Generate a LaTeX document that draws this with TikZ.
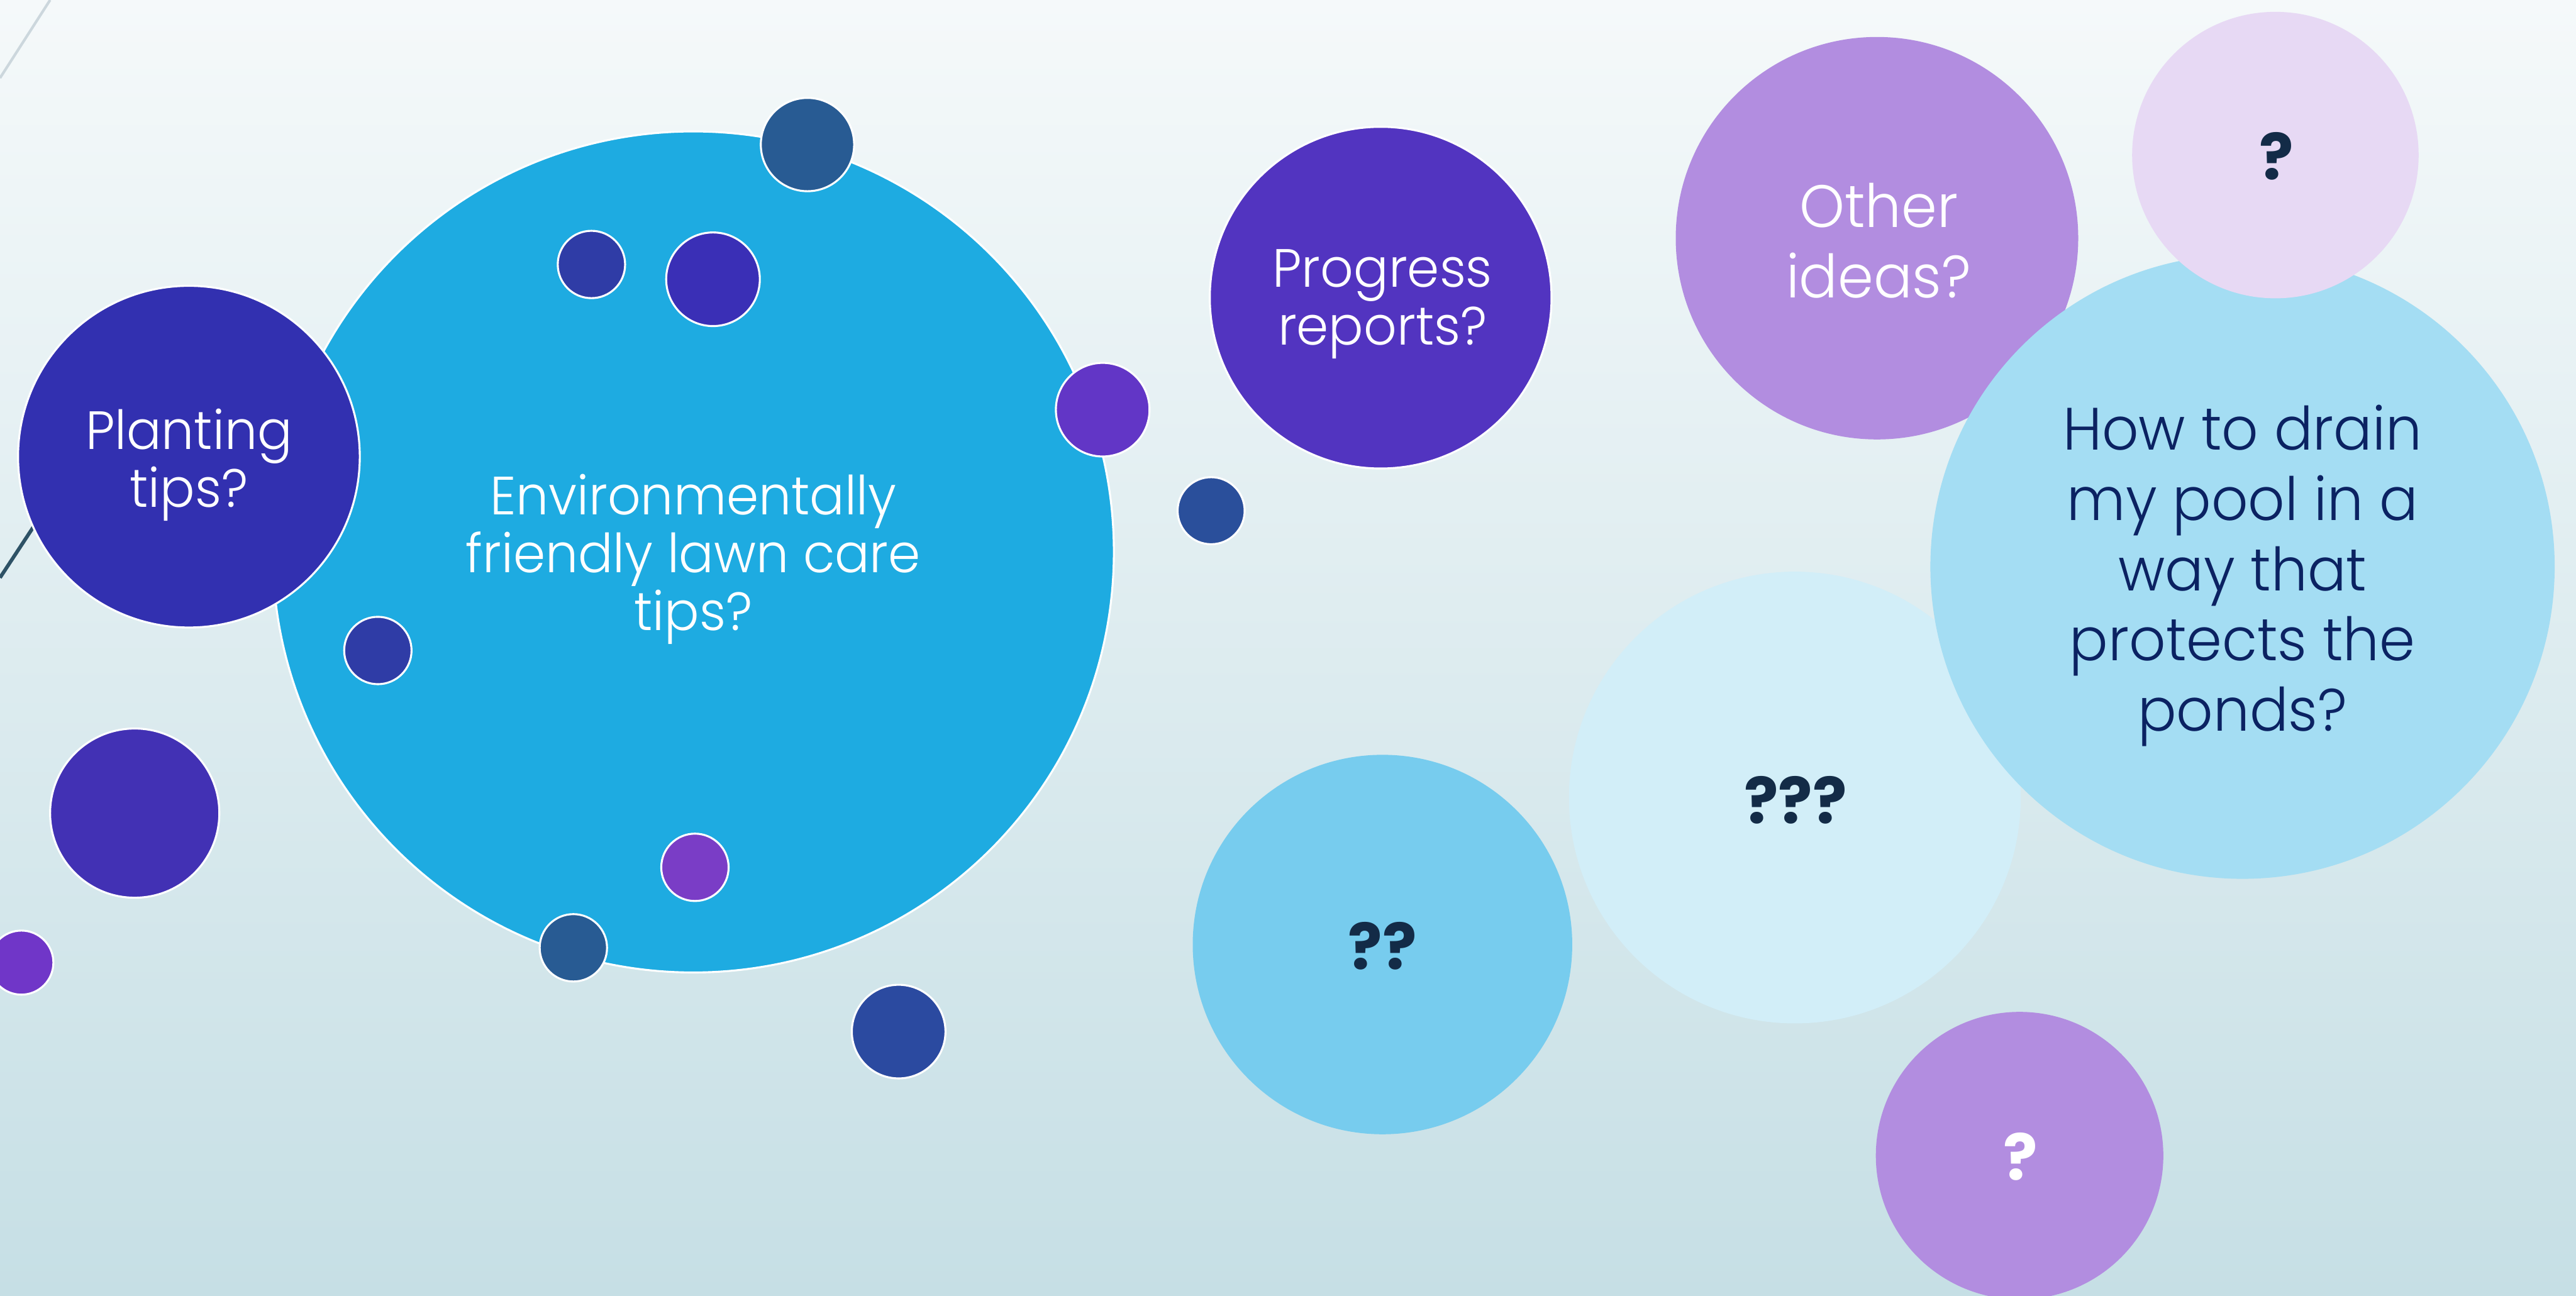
\documentclass[tikz,border=0pt]{standalone}
\usepackage{fontspec}
\setmainfont{Poppins}
\newfontfamily\thinfont{Poppins Light}[FakeStretch=0.96]

\definecolor{bgtop}{HTML}{F5F9FA}
\definecolor{bgbot}{HTML}{C6DFE5}
\definecolor{skyblue}{HTML}{1EABE1}
\definecolor{indigo}{HTML}{3230B0}
\definecolor{violet}{HTML}{5234C0}
\definecolor{lilac}{HTML}{B28DE0}
\definecolor{palelilac}{HTML}{E7D9F4}
\definecolor{paleblue}{HTML}{A4DDF3}
\definecolor{midblue}{HTML}{77CCEE}
\definecolor{iceblue}{HTML}{D2EEF8}
\definecolor{navytext}{HTML}{0B2262}
\definecolor{marknavy}{HTML}{132B47}
\definecolor{steel}{HTML}{285B93}
\definecolor{cobalt}{HTML}{2A4F9B}
\definecolor{royal}{HTML}{2F3CA6}
\definecolor{deepindigo}{HTML}{3A2FB6}
\definecolor{purple}{HTML}{6236C6}
\definecolor{orchid}{HTML}{7A3DC6}
\definecolor{grape}{HTML}{7036C8}
\definecolor{plum}{HTML}{4231B4}
\definecolor{denim}{HTML}{2B4AA0}
\definecolor{slateline}{HTML}{2E5266}
\definecolor{greyline}{HTML}{CCD7DD}

\tikzset{
  bub/.style={circle, inner sep=0pt, outer sep=0pt, minimum size=#1pt},
  rim/.style={draw=white, line width=0.6pt},
  lbl/.style={font=\thinfont\fontsize{16.4}{17.6}\selectfont, text=white,
              align=center, inner sep=0pt},
  lblbig/.style={font=\thinfont\fontsize{18.2}{21.4}\selectfont,
              align=center, inner sep=0pt},
  qmark/.style={font=\bfseries\fontsize{19.4}{20}\selectfont, text=marknavy,
              inner sep=0pt},
}

\begin{document}
\begin{tikzpicture}[x=0.5pt, y=-0.5pt]
  \useasboundingbox (0,0) rectangle (1568,788.6);
  \shade[top color=bgtop, bottom color=bgbot] (0,0) rectangle (1568,788.6);

  % thin decorative strokes at the left border
  \coordinate (g1) at (0,47.5);
  \coordinate (g2) at (30.5,0);
  \draw[greyline, line width=0.8pt] (g1) -- (g2);
  \coordinate (s1) at (0,351.7);
  \coordinate (s2) at (80,230);
  \draw[slateline, line width=1.1pt] (s1) -- (s2);

  % main bubble and its satellites
  \node[bub=256, fill=skyblue, rim] (env) at (422,336) {};
  \node[bub=28.4, fill=steel, rim] (d1) at (491.5,88) {};
  \node[bub=20.5, fill=royal, rim] (d2) at (360,161) {};
  \node[bub=28.5, fill=deepindigo, rim] (d3) at (434,170) {};
  \node[bub=28.5, fill=purple, rim] (d4) at (671.2,249.4) {};
  \node[bub=20.5, fill=royal, rim] (d5) at (230,396) {};
  \node[bub=20.5, fill=orchid, rim] (d6) at (423,528) {};
  \node[bub=20.5, fill=steel, rim] (d7) at (349,577) {};

  \node[bub=104, fill=indigo, rim] (plant) at (115,278) {};

  \node[bub=20.4, fill=cobalt, rim] (d8) at (737.2,310.9) {};
  \node[bub=51.5, fill=plum, rim] (d9) at (82,495) {};
  \node[bub=19.5, fill=grape, rim] (d10) at (13,586) {};
  \node[bub=28.5, fill=denim, rim] (d11) at (547,628) {};

  \node[bub=104, fill=violet, rim] (prog) at (840.4,181.2) {};

  % right-hand cluster
  \node[bub=122.5, fill=lilac] (other) at (1142.5,145) {};
  \node[bub=137.5, fill=iceblue] (tri) at (1092.5,485.5) {};
  \node[bub=190, fill=paleblue] (drain) at (1365,345) {};
  \node[bub=87.2, fill=palelilac] (qtop) at (1385,94.4) {};
  \node[bub=115.5, fill=midblue] (duo) at (841.5,575) {};
  \node[bub=87.5, fill=lilac] (qbot) at (1229.3,703.5) {};

  % labels
  \node[lbl] (tenv) at (422,340.5) {Environmentally\\friendly lawn care\\tips?};
  \node[lbl] (tplant) at (115,283) {Planting\\tips?};
  \node[lbl] (tprog) at (841.5,185) {Progress\\reports?};
  \node[lblbig, text=white] (tother) at (1143.5,146.5) {Other\\ideas?};
  \node[lblbig, text=navytext] (tdrain) at (1365,350.5) {How to drain\\my pool in a\\way that\\protects the\\ponds?};
  \node[qmark] (tqtop) at (1385.5,94.9) {?};
  \node[qmark] (ttri) at (1093,487) {???};
  \node[qmark] (tduo) at (841.5,576) {??};
  \node[qmark, text=white] (tqbot) at (1230,704) {?};
\end{tikzpicture}
\end{document}
